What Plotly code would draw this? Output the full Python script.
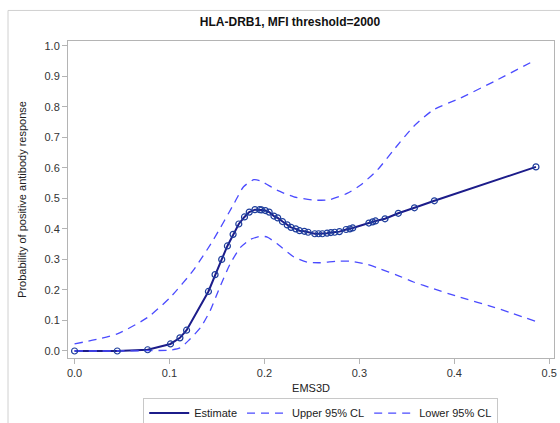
import plotly.graph_objects as go

# Estimate points
est_x = [0.0, 0.045, 0.077, 0.101, 0.111, 0.118, 0.141, 0.148, 0.155, 0.161, 0.167, 0.173,
         0.179, 0.184, 0.190, 0.195, 0.197, 0.201, 0.205, 0.210, 0.214, 0.219, 0.224, 0.228,
         0.233, 0.237, 0.242, 0.246, 0.253, 0.257, 0.261, 0.266, 0.270, 0.274, 0.279, 0.286,
         0.290, 0.293, 0.310, 0.314, 0.317, 0.327, 0.341, 0.358, 0.379, 0.486]
est_y = [0.0, 0.0, 0.004, 0.023, 0.043, 0.068, 0.195, 0.250, 0.300, 0.344, 0.382, 0.416,
         0.439, 0.455, 0.463, 0.463, 0.462, 0.460, 0.455, 0.442, 0.436, 0.424, 0.413, 0.405,
         0.400, 0.394, 0.392, 0.389, 0.384, 0.384, 0.384, 0.386, 0.388, 0.389, 0.391, 0.398,
         0.400, 0.403, 0.419, 0.423, 0.426, 0.433, 0.451, 0.469, 0.492, 0.603]

# Upper 95% CL
up_x = [0.0, 0.045, 0.077, 0.101, 0.125, 0.146, 0.168, 0.178, 0.189, 0.196, 0.213, 0.231,
        0.252, 0.269, 0.287, 0.301, 0.319, 0.336, 0.357, 0.378, 0.406, 0.442, 0.486]
up_y = [0.023, 0.056, 0.110, 0.176, 0.264, 0.363, 0.483, 0.538, 0.561, 0.557, 0.527, 0.505,
        0.494, 0.496, 0.516, 0.543, 0.593, 0.658, 0.735, 0.790, 0.828, 0.883, 0.954]

# Lower 95% CL
lo_x = [0.0, 0.045, 0.077, 0.101, 0.111, 0.120, 0.133, 0.143, 0.153, 0.164, 0.175, 0.185,
        0.196, 0.203, 0.213, 0.231, 0.245, 0.259, 0.276, 0.290, 0.308, 0.322, 0.340, 0.357,
        0.378, 0.406, 0.442, 0.486]
lo_y = [0.0, 0.0, 0.001, 0.003, 0.010, 0.034, 0.078, 0.133, 0.209, 0.286, 0.340, 0.365,
        0.376, 0.373, 0.352, 0.308, 0.291, 0.289, 0.294, 0.294, 0.284, 0.269, 0.248, 0.226,
        0.204, 0.176, 0.143, 0.097]

x_ticks = [0.0, 0.1, 0.2, 0.3, 0.4, 0.5]
y_ticks = [0.0, 0.1, 0.2, 0.3, 0.4, 0.5, 0.6, 0.7, 0.8, 0.9, 1.0]

FONT = "Liberation Sans, Arial, sans-serif"
EST_C = "#1c1c8a"
CL_C = "#4b4bff"

fig = go.Figure()
fig.add_trace(go.Scatter(x=est_x, y=est_y, mode="lines", name="Estimate",
                         line=dict(color=EST_C, width=2)))
fig.add_trace(go.Scatter(x=up_x, y=up_y, mode="lines", name="Upper 95% CL",
                         line=dict(color=CL_C, width=1.3, dash="8px,6px", shape="spline", smoothing=0.6)))
fig.add_trace(go.Scatter(x=lo_x, y=lo_y, mode="lines", name="Lower 95% CL",
                         line=dict(color=CL_C, width=1.3, dash="8px,6px", shape="spline", smoothing=0.6)))
fig.add_trace(go.Scatter(x=est_x, y=est_y, mode="markers", showlegend=False,
                         marker=dict(symbol="circle-open", size=6, color="#1d3d9c",
                                     line=dict(width=1.2, color="#1d3d9c"))))

fig.update_layout(
    width=560, height=423,
    margin=dict(l=68, r=6, t=41, b=65, autoexpand=False),
    paper_bgcolor="white", plot_bgcolor="white",
    font=dict(family=FONT, size=11, color="#333333"),
    title=dict(text="<b>HLA-DRB1, MFI threshold=2000</b>", x=290 / 560, xanchor="center",
               y=1 - 22 / 423, yanchor="middle", font=dict(size=12, color="#111111")),
    showlegend=True,
    legend=dict(orientation="h", x=0.52, xanchor="center", y=(357.5 - 397) / 316.5, yanchor="top",
                bordercolor="#c8c8c8", borderwidth=1, font=dict(size=11, color="#222222"),
                traceorder="normal", itemwidth=40, tracegroupgap=0),
    xaxis=dict(range=[-0.0069, 0.505], tickvals=x_ticks, tickformat=".1f",
               showgrid=False, zeroline=False, showline=True, linecolor="#b4b4b4",
               linewidth=1, mirror=True, ticks="outside", ticklen=5, tickcolor="#b4b4b4",
               automargin=False,
               title=dict(text="EMS3D", font=dict(size=11, color="#222222"), standoff=6)),
    yaxis=dict(range=[-0.023, 1.0154], tickvals=y_ticks, tickformat=".1f",
               showgrid=False, zeroline=False, showline=True, linecolor="#b4b4b4",
               linewidth=1, mirror=True, ticks="outside", ticklen=5, tickcolor="#b4b4b4",
               automargin=False,
               title=dict(text="Probability of positive antibody response",
                          font=dict(size=11, color="#222222"), standoff=15)),
    shapes=[dict(type="rect", xref="paper", yref="paper",
                 x0=(8 - 68) / 486, x1=1.2, y0=-0.4, y1=1 + (41 - 10.5) / 316.5,
                 line=dict(color="#d0d0d0", width=1), layer="below")],
)

fig.write_html("out.html")
